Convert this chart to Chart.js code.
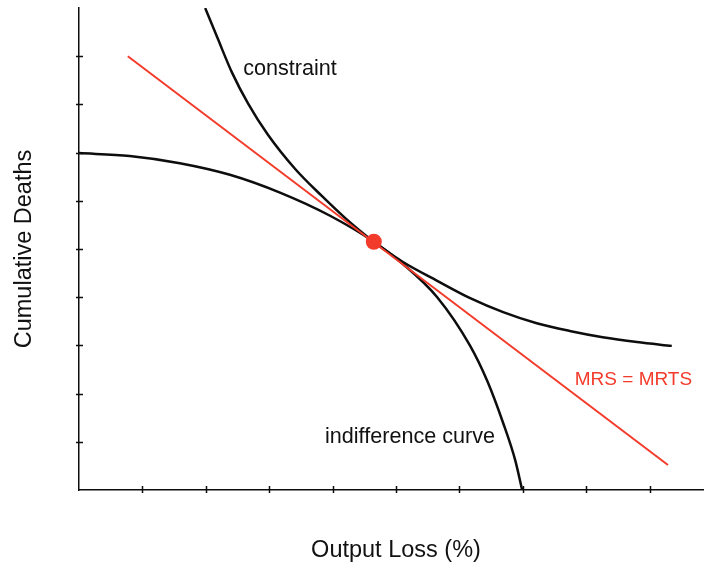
<!DOCTYPE html>
<html>
<head>
<meta charset="utf-8">
<script src="https://cdn.jsdelivr.net/npm/chart.js@4.4.1/dist/chart.umd.min.js"></script>
<style>
html, body { margin: 0; padding: 0; background: #fff; overflow: hidden; }
#wrap { width: 704px; height: 565px; overflow: hidden; position: relative; }
#tradeoff { position: absolute; left: 0; top: 0; }
</style>
</head>
<body>
<div id="wrap"><canvas id="tradeoff" width="714" height="565"></canvas></div>
<script>
/*
Values
*/
var xTicks = [1, 2, 3, 4, 5, 6, 7, 8, 9];
var yTicks = [1, 2, 3, 4, 5, 6, 7, 8, 9];

// convex curve, labelled "constraint"
var constraintX = [1.99, 2.19, 2.41, 2.67, 2.98, 3.41, 3.83, 4.20, 4.65, 5.11, 5.65, 6.17, 6.69, 7.22, 7.74, 8.26, 8.80, 9.35];
var constraintY = [10.0, 9.36, 8.67, 8.01, 7.37, 6.66, 6.10, 5.64, 5.15, 4.73, 4.34, 3.98, 3.69, 3.46, 3.30, 3.17, 3.07, 2.99];

// concave curve, labelled "indifference curve"
var indiffX = [0.00, 0.80, 1.59, 2.38, 3.17, 3.96, 4.65, 5.11, 5.65, 6.17, 6.44, 6.69, 6.88, 6.99];
var indiffY = [6.99, 6.93, 6.78, 6.54, 6.17, 5.69, 5.15, 4.69, 4.00, 2.99, 2.26, 1.39, 0.62, 0.00];

// tangent line and the tangency point
var mrsX = [0.77, 9.29];
var mrsY = [9.00, 0.52];
var tangentX = [4.65];
var tangentY = [5.15];

var noteText = ['constraint', 'indifference curve', 'MRS = MRTS'];
var noteX = [2.59, 3.88, 7.82];
var noteY = [8.73, 1.10, 2.28];

/*
Colors
*/
var chartColors = {
    black: '#0d0d0d',
    red: '#f33b2b',
    text: '#111111'
};
var fontFamily = "'Liberation Sans', Helvetica, Arial, sans-serif";
var noteStyle = [
    { color: chartColors.text, size: 21.6 },
    { color: chartColors.text, size: 21.6 },
    { color: chartColors.red, size: 19 }
];

function toPoints(xs, ys) {
    return xs.map(function (x, i) { return { x: x, y: ys[i] }; });
}

// small tick marks that cross the axis lines, plus the text notes
var axisMarks = {
    id: 'axisMarks',
    afterDraw: function (chart) {
        var ctx = chart.ctx;
        var xs = chart.scales.x;
        var ys = chart.scales.y;
        var area = chart.chartArea;
        ctx.save();
        ctx.strokeStyle = chartColors.black;
        ctx.lineWidth = 1.5;
        ctx.beginPath();
        xTicks.forEach(function (v) {
            var px = Math.round(xs.getPixelForValue(v)) + 0.5;
            ctx.moveTo(px, area.bottom - 4);
            ctx.lineTo(px, area.bottom + 3);
        });
        yTicks.forEach(function (v) {
            var py = Math.round(ys.getPixelForValue(v)) + 0.5;
            ctx.moveTo(area.left - 3, py);
            ctx.lineTo(area.left + 4, py);
        });
        ctx.stroke();

        ctx.textAlign = 'left';
        ctx.textBaseline = 'middle';
        noteText.forEach(function (t, i) {
            ctx.fillStyle = noteStyle[i].color;
            ctx.font = noteStyle[i].size + 'px ' + fontFamily;
            ctx.fillText(t, xs.getPixelForValue(noteX[i]), ys.getPixelForValue(noteY[i]));
        });
        ctx.restore();
    }
};

function buildChart() {
    var ctx = document.getElementById('tradeoff').getContext('2d');
    new Chart(ctx, {
        type: 'line',
        data: {
            datasets: [{
                data: toPoints(tangentX, tangentY),
                showLine: false,
                pointRadius: 8,
                pointBackgroundColor: chartColors.red,
                pointBorderWidth: 0
            }, {
                data: toPoints(mrsX, mrsY),
                borderColor: chartColors.red,
                borderWidth: 2,
                pointRadius: 0
            }, {
                data: toPoints(constraintX, constraintY),
                borderColor: chartColors.black,
                borderWidth: 2.5,
                pointRadius: 0,
                cubicInterpolationMode: 'monotone'
            }, {
                data: toPoints(indiffX, indiffY),
                borderColor: chartColors.black,
                borderWidth: 2.5,
                pointRadius: 0,
                cubicInterpolationMode: 'monotone'
            }]
        },
        options: {
            responsive: false,
            animation: false,
            devicePixelRatio: 1,
            layout: {
                autoPadding: false,
                padding: { top: 8, right: 1, bottom: 0, left: 0 }
            },
            plugins: {
                legend: { display: false },
                tooltip: { enabled: false }
            },
            scales: {
                x: {
                    type: 'linear',
                    min: 0,
                    max: 10,
                    grid: { display: false },
                    border: { display: true, color: chartColors.black, width: 1.5 },
                    ticks: { display: false },
                    title: {
                        display: true,
                        text: 'Output Loss (%)',
                        color: chartColors.text,
                        font: { family: fontFamily, size: 23.5 },
                        padding: { top: 0, bottom: 0 }
                    },
                    afterFit: function (scale) { scale.height = 75; }
                },
                y: {
                    type: 'linear',
                    min: 0,
                    max: 10,
                    grid: { display: false },
                    border: { display: true, color: chartColors.black, width: 1.5 },
                    ticks: { display: false },
                    title: {
                        display: true,
                        text: 'Cumulative Deaths',
                        color: chartColors.text,
                        font: { family: fontFamily, size: 23.5 },
                        padding: { top: 10, bottom: 0 }
                    },
                    afterFit: function (scale) { scale.width = 79; }
                }
            }
        },
        plugins: [axisMarks]
    });
}

buildChart();
</script>
</body>
</html>
